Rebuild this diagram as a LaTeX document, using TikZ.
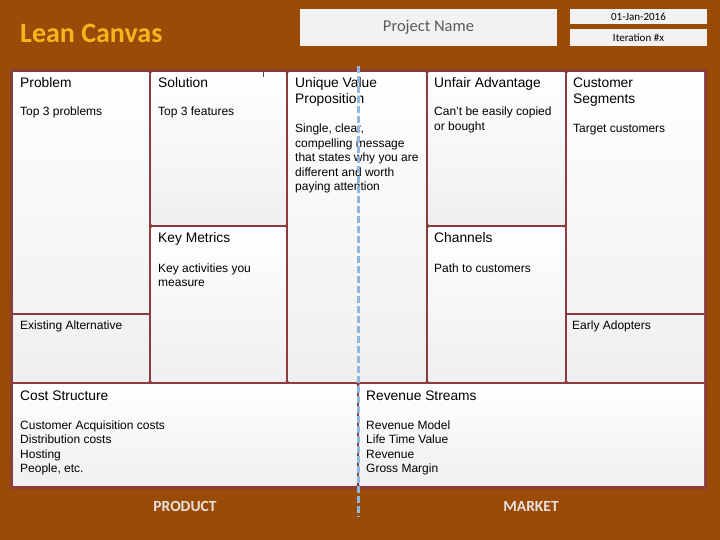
\documentclass[tikz,border=0pt]{standalone}
\usepackage{fontspec}
\setmainfont{Liberation Sans}
\newfontfamily\calibrifont{Carlito}
\usepackage{tikz}
\usepackage{xcolor}
\usetikzlibrary{calc}
\definecolor{canvasbg}{HTML}{9B4B08}
\definecolor{framered}{HTML}{8B3D3D}
\definecolor{paneltop}{HTML}{FFFFFF}
\definecolor{panelbot}{HTML}{EFEFEF}
\definecolor{headgold}{HTML}{F7B41C}
\definecolor{sidegray}{HTML}{F2F2F2}
\definecolor{splitblue}{HTML}{8FB8DE}

\begin{document}
\begin{tikzpicture}[
    x=1pt, y=-1pt,
    cellbox/.style={top color=paneltop, bottom color=panelbot, draw=none},
    headtext/.style={anchor=base west, inner sep=0pt, align=left,
        font=\fontsize{13.8}{15.5}\selectfont},
    notetext/.style={anchor=base west, inner sep=0pt, align=left,
        font=\fontsize{12}{14.5}\selectfont},
    infobox/.style={fill=sidegray, draw=none},
    sidetext/.style={font=\calibrifont\bfseries\fontsize{15.5}{17}\selectfont, text=sidegray!90!canvasbg}
]
\useasboundingbox (0,0) rectangle (720,540);
\fill[canvasbg] (0,0) rectangle (720,540);
%====================================================
% HEADER
%====================================================
\node[anchor=base west, inner sep=0pt, text=headgold,
    font=\calibrifont\bfseries\fontsize{28}{30}\selectfont] (title) at (20,43) {Lean Canvas};
\fill[infobox] (300,9) rectangle (557,46);
\fill[infobox] (570,9) rectangle (707,24);
\fill[infobox] (570,29) rectangle (707,46);
\node[text=black!65, font=\calibrifont\fontsize{16.5}{18}\selectfont] (project) at (428.5,27.5) {Project Name};
\node[font=\calibrifont\fontsize{11}{12}\selectfont] (date) at (638.5,16.5) {01-Jan-2016};
\node[font=\calibrifont\fontsize{11}{12}\selectfont] (iteration) at (638.5,37.5) {Iteration \#x};
%====================================================
% GRID
%====================================================
\fill[framered] (10,69.5) rectangle (707,488.5);
\foreach \xa/\ya/\xb/\yb in {11.5/71/150/383, 150/71/287/226, 150/226/287/383,
    287/71/427/383, 427/71/566/226, 427/226/566/383, 566/71/705.5/383,
    11.5/383/358/487, 358/383/705.5/487}
{
    \shade[cellbox] (\xa+1.5,\ya+1.5) rectangle (\xb-1.5,\yb-1.5);
}
\foreach \xa/\xb in {11.5/150, 566/705.5}
{
    \draw[framered, line width=1.5pt] (\xa,314) -- (\xb,314);
}
\draw[black!70, line width=0.8pt] (263,72) -- (263,77);
%====================================================
% TOP ROW (multi-line texts sit on the baseline of their last line)
%====================================================
\node[headtext] (problem) at (20,88) {Problem};
\node[notetext] (problembody) at (20,116) {Top 3 problems};
\node[headtext] (solution) at (158,88) {Solution};
\node[notetext] (solutionbody) at (158,116) {Top 3 features};
\node[headtext] (uvp) at (295,103.5) {Unique Value\\Proposition};
\node[notetext] (uvpbody) at (295,191) {Single, clear,\\compelling message\\that states why you are\\different and worth\\paying attention};
\node[headtext] (advantage) at (434,88) {Unfair Advantage};
\node[notetext] (advantagebody) at (434,130.5) {Can't be easily copied\\or bought};
\node[headtext] (segments) at (573,103.5) {Customer\\Segments};
\node[notetext] (segmentsbody) at (573,133) {Target customers};
%====================================================
% MIDDLE ROW
%====================================================
\node[headtext] (metrics) at (158,243) {Key Metrics};
\node[notetext] (metricsbody) at (158,286.5) {Key activities you\\measure};
\node[headtext] (channels) at (434,243) {Channels};
\node[notetext] (channelsbody) at (434,272) {Path to customers};
\node[notetext] (alternative) at (20,329.5) {Existing Alternative};
\node[notetext] (adopters) at (572,329.5) {Early Adopters};
%====================================================
% BOTTOM ROW
%====================================================
\node[headtext] (cost) at (20,400) {Cost Structure};
\node[notetext] (costbody) at (20,472.5) {Customer Acquisition costs\\Distribution costs\\Hosting\\People, etc.};
\node[headtext] (revenue) at (366,400) {Revenue Streams};
\node[notetext] (revenuebody) at (366,472.5) {Revenue Model\\Life Time Value\\Revenue\\Gross Margin};
%====================================================
% PRODUCT / MARKET
%====================================================
\coordinate (splittop) at (358,66);
\coordinate (splitbot) at (358,517);
\draw[splitblue, line width=3pt, dash pattern=on 7pt off 3pt] (splittop) -- (splitbot);
\node[sidetext] (product) at (185,506) {PRODUCT};
\node[sidetext] (market) at (531,506) {MARKET};
\end{tikzpicture}
\end{document}
